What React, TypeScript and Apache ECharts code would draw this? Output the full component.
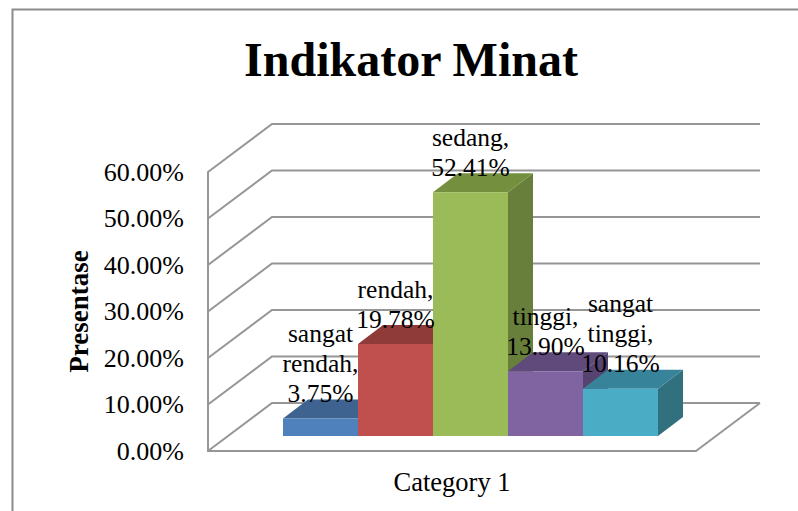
import React, { useEffect, useRef } from "react";
import * as echarts from "echarts";

const categories = ["Category 1"];
const seriesNames = ["sangat rendah", "rendah", "sedang", "tinggi", "sangat tinggi"];
const seriesValues = [0.0375, 0.1978, 0.5241, 0.139, 0.1016];
const labelLines = [
  ["sangat", "rendah,", "3.75%"],
  ["rendah,", "19.78%"],
  ["sedang,", "52.41%"],
  ["tinggi,", "13.90%"],
  ["sangat", "tinggi,", "10.16%"],
];
const yTicks = [0, 0.1, 0.2, 0.3, 0.4, 0.5, 0.6];
const frontColors = ["#4f81bd", "#c0504d", "#9bbb59", "#8064a2", "#4bacc6"];
const topColors = ["#3e6390", "#8e3b39", "#74903f", "#604a7b", "#37839a"];
const sideColors = ["#355680", "#7f3533", "#677f3a", "#574370", "#31707f"];

const FONT = '"Liberation Serif", "Times New Roman", serif';
const GRAY = "#969696";
const WALL_DX = 64;
const WALL_DY = 48;
const BAR_DX = 25;
const BAR_DY = 19;
const BAR_LIFT = 15;
const BAR_SHIFT = 18.5;
const BAR_RATIO = 75 / 488;

const gridSeries = {
  type: "custom",
  name: "walls",
  z: 1,
  silent: true,
  data: yTicks.map((t) => [0, t]),
  encode: { x: 0, y: 1 },
  renderItem: (_p: any, api: any) => {
    const [cx, y] = api.coord([api.value(0), api.value(1)]);
    const band = api.size([1, 0])[0];
    const left = cx - band / 2;
    const right = cx + band / 2;
    const children: any[] = [
      {
        type: "polyline",
        shape: {
          points: [
            [left, y],
            [left + WALL_DX, y - WALL_DY],
            [right + WALL_DX, y - WALL_DY],
          ],
        },
        style: { stroke: GRAY, lineWidth: 2, fill: "none" },
      },
    ];
    if (api.value(1) === 0) {
      children.push({
        type: "line",
        shape: { x1: right, y1: y, x2: right + WALL_DX, y2: y - WALL_DY },
        style: { stroke: GRAY, lineWidth: 2 },
      });
    }
    return { type: "group", children };
  },
};

const barSeries = seriesNames.map((name, i) => ({
  type: "custom",
  name,
  z: 2,
  data: [[0, seriesValues[i]]],
  encode: { x: 0, y: 1 },
  renderItem: (_p: any, api: any) => {
    const [cx, rawTop] = api.coord([api.value(0), api.value(1)]);
    const [, rawBase] = api.coord([api.value(0), 0]);
    const w = api.size([1, 0])[0] * BAR_RATIO;
    const x0 = cx + BAR_SHIFT + (i - 2.5) * w;
    const x1 = x0 + w;
    const top = rawTop - BAR_LIFT;
    const base = rawBase - BAR_LIFT;
    return {
      type: "group",
      children: [
        {
          type: "polygon",
          shape: {
            points: [
              [x1, top],
              [x1 + BAR_DX, top - BAR_DY],
              [x1 + BAR_DX, base - BAR_DY],
              [x1, base],
            ],
          },
          style: { fill: sideColors[i] },
        },
        {
          type: "polygon",
          shape: {
            points: [
              [x0, top],
              [x0 + BAR_DX, top - BAR_DY],
              [x1 + BAR_DX, top - BAR_DY],
              [x1, top],
            ],
          },
          style: { fill: topColors[i] },
        },
        {
          type: "rect",
          shape: { x: x0, y: top, width: w, height: base - top },
          style: { fill: frontColors[i] },
        },
        {
          type: "text",
          z2: 100,
          style: {
            text: labelLines[i].join("\n"),
            x: x0 + w / 2,
            y: top - 10,
            align: "center",
            verticalAlign: "bottom",
            lineHeight: 30,
            font: `25.5px ${FONT}`,
            fill: "#000",
          },
        },
      ],
    };
  },
}));

export default function App() {
  const ref = useRef<HTMLDivElement>(null);
  useEffect(() => {
    document.body.style.margin = "0";
    const chart = echarts.init(ref.current!, null, { renderer: "svg" });
    chart.setOption({
      animation: false,
      backgroundColor: "#fff",
      title: {
        text: "Indikator Minat",
        left: 406,
        top: 30,
        textAlign: "center",
        textStyle: { fontFamily: FONT, fontSize: 48, fontWeight: "bold", color: "#000" },
      },
      legend: { show: false },
      tooltip: { show: false },
      graphic: [
        {
          type: "rect",
          silent: true,
          z: -1,
          shape: { x: 12.5, y: 9.5, width: 900, height: 700 },
          style: { fill: "none", stroke: "#8c8c8c", lineWidth: 2 },
        },
      ],
      grid: { left: 208, right: 102, top: 172, bottom: 60, containLabel: false },
      xAxis: {
        type: "category",
        data: categories,
        axisLine: { show: true, lineStyle: { color: GRAY, width: 2 } },
        axisTick: { show: false },
        axisLabel: { fontFamily: FONT, fontSize: 26.5, color: "#000", margin: 17 },
      },
      yAxis: {
        type: "value",
        min: 0,
        max: 0.6,
        interval: 0.1,
        name: "Presentase",
        nameLocation: "middle",
        nameRotate: 90,
        nameGap: 115,
        nameTextStyle: { fontFamily: FONT, fontSize: 27, fontWeight: "bold", color: "#000" },
        axisLine: { show: true, lineStyle: { color: GRAY, width: 2 } },
        axisTick: { show: false },
        splitLine: { show: false },
        axisLabel: {
          fontFamily: FONT,
          fontSize: 26,
          color: "#000",
          margin: 24,
          padding: [6, 0, 0, 0],
          formatter: (v: number) => `${(v * 100).toFixed(2)}%`,
        },
      },
      series: [gridSeries, ...barSeries],
    });
    return () => chart.dispose();
  }, []);
  return (
    <div
      ref={ref}
      style={{ position: "fixed", left: 0, top: 0, width: 798, height: 511 }}
    />
  );
}
